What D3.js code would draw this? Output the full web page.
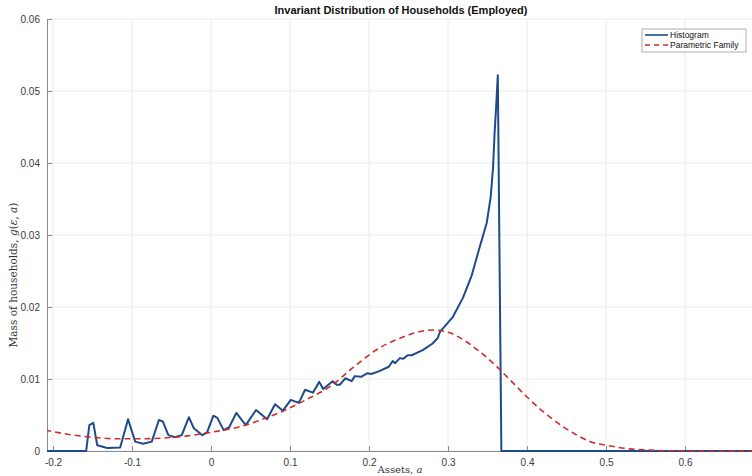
<!DOCTYPE html>
<html>
<head>
<meta charset="utf-8">
<script src="https://cdn.jsdelivr.net/npm/d3@7"></script>
<style>
  body { margin: 0; background: #fff; }
  svg { display: block; }
</style>
</head>
<body>
<script>
// histogram of the invariant distribution
var histX = [-0.21, -0.158, -0.154, -0.149, -0.144, -0.137, -0.131, -0.115, -0.105, -0.096,
  -0.086, -0.075, -0.066, -0.061, -0.054, -0.046, -0.037, -0.028, -0.022, -0.011,
  -0.005, 0.003, 0.008, 0.016, 0.023, 0.032, 0.044, 0.057, 0.071, 0.081,
  0.091, 0.101, 0.106, 0.111, 0.113, 0.119, 0.129, 0.137, 0.142, 0.154,
  0.159, 0.163, 0.170, 0.178, 0.182, 0.190, 0.198, 0.203, 0.213, 0.225,
  0.230, 0.233, 0.239, 0.243, 0.249, 0.254, 0.268, 0.280, 0.287, 0.290,
  0.295, 0.306, 0.319, 0.330, 0.340, 0.349, 0.354, 0.357, 0.359, 0.361,
  0.363, 0.3675, 0.75]
var histY = [0, 0, 0.0036, 0.0039, 0.0008, 0.0006, 0.0004, 0.0005, 0.0044, 0.0013,
  0.0010, 0.0013, 0.0043, 0.0041, 0.0022, 0.0019, 0.0022, 0.0047, 0.0032, 0.0022,
  0.0026, 0.0049, 0.0046, 0.0029, 0.0033, 0.0053, 0.0036, 0.0057, 0.0044, 0.0065,
  0.0056, 0.0071, 0.0069, 0.0067, 0.0071, 0.0085, 0.0081, 0.0096, 0.0086, 0.0097,
  0.0092, 0.0092, 0.0101, 0.0097, 0.0104, 0.0103, 0.0108, 0.0107, 0.0111, 0.0117,
  0.0125, 0.0122, 0.0129, 0.0128, 0.0133, 0.0133, 0.0140, 0.0149, 0.0157, 0.0166,
  0.0172, 0.0186, 0.0213, 0.0244, 0.0283, 0.0317, 0.0353, 0.0394, 0.0443, 0.0480,
  0.0522, 0, 0]

// parametric family fit (dashed curve)
var paramX = [-0.21, -0.18, -0.15, -0.12, -0.09, -0.06, -0.03, 0, 0.03, 0.06,
  0.09, 0.12, 0.15, 0.18, 0.21, 0.24, 0.27, 0.28, 0.30, 0.32,
  0.34, 0.36, 0.38, 0.40, 0.42, 0.44, 0.46, 0.48, 0.50, 0.53,
  0.56, 0.60, 0.75]
var paramY = [0.0029, 0.0023, 0.0019, 0.0017, 0.0017, 0.0018, 0.0021, 0.0026, 0.0032, 0.0042,
  0.0055, 0.0071, 0.0089, 0.0116, 0.0141, 0.0157, 0.0167, 0.0168, 0.0165, 0.0154,
  0.0138, 0.0119, 0.0097, 0.0075, 0.0055, 0.0038, 0.0024, 0.0013, 0.0008, 0.0003,
  0.0001, 0, 0]

var xTicks = [-0.2, -0.1, 0, 0.1, 0.2, 0.3, 0.4, 0.5, 0.6]
var yTicks = [0, 0.01, 0.02, 0.03, 0.04, 0.05, 0.06]

var W = 752, H = 476
var plotL = 47, plotR = 753, plotT = 19, plotB = 451

var svg = d3.select('body').append('svg')
    .attr('width', W)
    .attr('height', H)

var x = d3.scaleLinear().domain([-0.2076, 0.686]).range([plotL, plotR])
var y = d3.scaleLinear().domain([0, 0.06]).range([plotB, plotT])

// grid lines
svg.append('g').selectAll('line')
    .data(xTicks).enter().append('line')
    .attr('x1', d => x(d)).attr('x2', d => x(d))
    .attr('y1', plotT).attr('y2', plotB)
    .attr('stroke', '#ebebeb').attr('stroke-width', 1)
svg.append('g').selectAll('line')
    .data(yTicks).enter().append('line')
    .attr('x1', plotL).attr('x2', plotR)
    .attr('y1', d => y(d)).attr('y2', d => y(d))
    .attr('stroke', '#ebebeb').attr('stroke-width', 1)

// axes, ticks pointing inward like matlab
var fmtX = d => d === 0 ? '0' : d3.format('.1f')(d).replace('−', '-')
var fmtY = d => d === 0 ? '0' : d3.format('.2f')(d)
var xAxis = svg.append('g')
    .attr('transform', 'translate(0,' + plotB + ')')
    .call(d3.axisBottom(x).tickValues(xTicks).tickSizeInner(-5).tickSizeOuter(0).tickPadding(8).tickFormat(fmtX))
var yAxis = svg.append('g')
    .attr('transform', 'translate(' + plotL + ',0)')
    .call(d3.axisLeft(y).tickValues(yTicks).tickSizeInner(-5).tickSizeOuter(0).tickPadding(7).tickFormat(fmtY))

;[xAxis, yAxis].forEach(function(a) {
    a.select('.domain').attr('stroke', '#8c8c8c')
    a.selectAll('.tick line').attr('stroke', '#8c8c8c')
    a.selectAll('.tick text')
        .attr('fill', '#3a3a3a')
        .style('font-family', 'Liberation Sans, Arial, sans-serif')
        .style('font-size', '10px')
})

// lines
var clip = svg.append('clipPath').attr('id', 'clip')
    .append('rect').attr('x', plotL).attr('y', 0).attr('width', plotR - plotL).attr('height', plotB + 1)

svg.append('path')
    .datum(histX.map((v, i) => [v, histY[i]]))
    .attr('clip-path', 'url(#clip)')
    .attr('d', d3.line().x(d => x(d[0])).y(d => y(d[1])))
    .attr('fill', 'none')
    .attr('stroke', '#1f4b8a')
    .attr('stroke-width', 2)
    .attr('stroke-linejoin', 'round')

svg.append('path')
    .datum(paramX.map((v, i) => [v, paramY[i]]))
    .attr('clip-path', 'url(#clip)')
    .attr('d', d3.line().curve(d3.curveMonotoneX).x(d => x(d[0])).y(d => y(d[1])))
    .attr('fill', 'none')
    .attr('stroke', '#cf2d2d')
    .attr('stroke-width', 1.6)
    .attr('stroke-dasharray', '6,4')

// title and labels
svg.append('text')
    .text('Invariant Distribution of Households (Employed)')
    .attr('x', 401).attr('y', 14)
    .attr('text-anchor', 'middle')
    .attr('font-weight', 700)
    .attr('font-family', 'Liberation Sans, Arial, sans-serif')
    .style('font-size', '11px')
    .attr('fill', '#111')

var xl = svg.append('text')
    .attr('x', 400).attr('y', 473)
    .attr('text-anchor', 'middle')
    .attr('font-family', 'DejaVu Serif, Liberation Serif, serif')
    .style('font-size', '10px')
    .attr('fill', '#333')
xl.append('tspan').text('Assets, ')
xl.append('tspan').text('a').attr('font-style', 'italic')

var yl = svg.append('text')
    .attr('transform', 'translate(17,275) rotate(-90)')
    .attr('text-anchor', 'middle')
    .attr('font-family', 'DejaVu Serif, Liberation Serif, serif')
    .style('font-size', '10.5px')
    .attr('fill', '#333')
yl.append('tspan').text('Mass of households, ')
yl.append('tspan').text('g').attr('font-style', 'italic')
yl.append('tspan').text('(')
yl.append('tspan').text('ε').attr('font-style', 'italic')
yl.append('tspan').text(', ')
yl.append('tspan').text('a').attr('font-style', 'italic')
yl.append('tspan').text(')')

// legend
var lg = svg.append('g').attr('transform', 'translate(642,29)')
lg.append('rect')
    .attr('width', 104).attr('height', 23)
    .attr('fill', '#fff').attr('stroke', '#9a9a9a').attr('stroke-width', 0.8)
var legendItems = [
    {name: 'Histogram', color: '#1f4b8a', dash: null},
    {name: 'Parametric Family', color: '#cf2d2d', dash: '5,4'}
]
legendItems.forEach(function(it, i) {
    var yy = 6 + i * 10
    lg.append('line')
        .attr('x1', 3).attr('x2', 26).attr('y1', yy).attr('y2', yy)
        .attr('stroke', it.color).attr('stroke-width', 1.6)
        .attr('stroke-dasharray', it.dash)
    lg.append('text')
        .text(it.name)
        .attr('x', 28).attr('y', yy + 3)
        .attr('font-family', 'Liberation Sans, Arial, sans-serif')
        .style('font-size', '8.5px')
        .attr('fill', '#111')
})
</script>
</body>
</html>
